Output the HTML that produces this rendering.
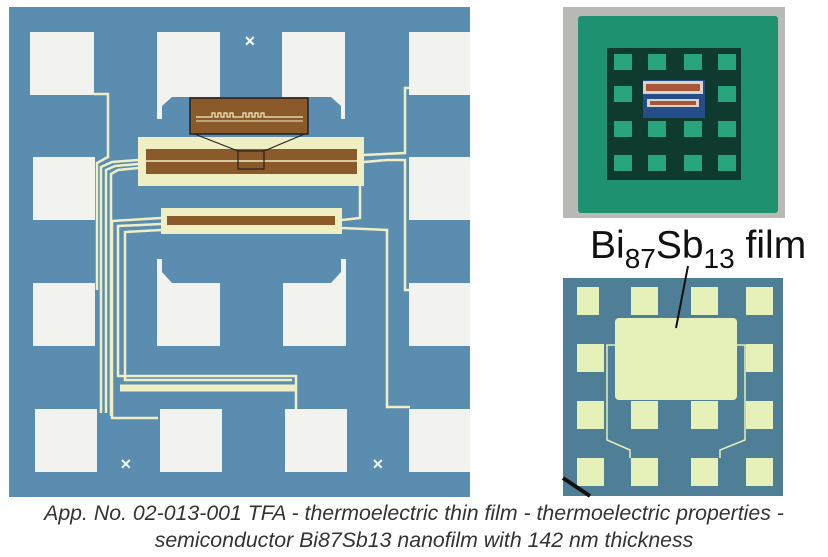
<!DOCTYPE html>
<html><head><meta charset="utf-8"><style>
html,body{margin:0;padding:0;background:#fff;width:828px;height:557px;overflow:hidden}
svg{display:block}
</style></head><body>
<svg width="828" height="557" viewBox="0 0 828 557" xmlns="http://www.w3.org/2000/svg">
<!-- left image -->
<rect x="9" y="7" width="461" height="490" fill="#5a8db0"/>
<g fill="#f2f2ee">
<rect x="30" y="32" width="64" height="63"/><rect x="157" y="32" width="63" height="63"/><rect x="282" y="32" width="63" height="63"/><rect x="409" y="32" width="61" height="63"/>
<rect x="33" y="157" width="62" height="63"/><rect x="409" y="157" width="61" height="63"/>
<rect x="33" y="283" width="62" height="63"/><rect x="157" y="283" width="63" height="63"/><rect x="283" y="283" width="63" height="63"/><rect x="409" y="283" width="61" height="63"/>
<rect x="35" y="409" width="62" height="63"/><rect x="160" y="409" width="62" height="63"/><rect x="285" y="409" width="62" height="63"/><rect x="409" y="409" width="61" height="63"/>
<path d="M157 95 H220 V97 H172 L162 106 V119 H157Z"/><path d="M282 95 H345 V119 H341 V106 L331 97 H282Z"/>
<path d="M157 259 H162 V272 L172 283 H157Z"/><path d="M341 259 H346 V283 H331 L341 272Z"/>
</g>
<g fill="#fff" font-family="Liberation Sans" font-size="14" font-weight="bold"><text x="244" y="46">✕</text><text x="120" y="469">✕</text><text x="372" y="469">✕</text></g>
<g fill="none" stroke="#f0efc4" stroke-width="2.5">
<polyline points="94,94 108,94 108,157 97,163 97,290"/>
<polyline points="138,160 112,162 101,167 101,413"/>
<polyline points="138,164 115,166 106,170 106,413"/>
<polyline points="138,168 118,170 111,174 111,416"/>
<polyline points="161,218 112,221 112,418 158,418"/>
<polyline points="161,224 118,226 118,376 296,376 296,409"/>
<polyline points="161,230 125,232 125,380 292,380"/>
<polyline points="409,88 405,88 405,153 364,155"/>
<polyline points="364,162 387,160 405,160 405,290 409,290"/>
<polyline points="360,170 360,218 342,220"/>
<polyline points="342,228 387,230 387,407 410,407"/>
</g>
<line x1="120" y1="388" x2="296" y2="388" stroke="#f0efc4" stroke-width="7"/>
<rect x="138" y="137" width="226" height="49" fill="#f0efc4"/>
<rect x="146" y="149" width="211" height="25" fill="#8b5a2b"/>
<line x1="146" y1="161" x2="357" y2="161" stroke="#f0efc4" stroke-width="1.5"/>
<rect x="238" y="151" width="26" height="18" fill="none" stroke="#222" stroke-width="1.2"/>
<path d="M238 151 L192 133 M264 151 L307 133" stroke="#222" stroke-width="1.2"/>
<rect x="161" y="208" width="181" height="26" fill="#f0efc4"/>
<rect x="167" y="216" width="168" height="9" fill="#8b5a2b"/>
<rect x="190" y="98" width="118" height="36" fill="#8b5a2b" stroke="#222" stroke-width="1.5"/>
<path d="M196 117 H212 v-4 h3 v4 h3 v-4 h3 v4 h3 v-4 h3 v4 h3 v-4 h3 v4 h10 v-4 h3 v4 h3 v-4 h3 v4 h3 v-4 h3 v4 h3 v-4 h3 v4 H303" stroke="#f0efc4" stroke-width="1.2" fill="none"/>
<line x1="196" y1="121" x2="303" y2="121" stroke="#f0efc4" stroke-width="1"/>
<!-- right top photo -->
<rect x="563" y="7" width="222" height="211" fill="#b9bab6"/>
<rect x="578" y="16" width="200" height="197" fill="#1e9170" rx="3"/>
<rect x="607" y="48" width="134" height="132" fill="#0f3a2f"/>
<g fill="#28a47d">
<rect x="614" y="54" width="18" height="16"/><rect x="648" y="54" width="18" height="16"/><rect x="684" y="54" width="18" height="16"/><rect x="718" y="54" width="18" height="16"/>
<rect x="614" y="86" width="18" height="16"/><rect x="718" y="86" width="18" height="16"/>
<rect x="614" y="121" width="18" height="16"/><rect x="648" y="121" width="18" height="16"/><rect x="684" y="121" width="18" height="16"/><rect x="718" y="121" width="18" height="16"/>
<rect x="614" y="155" width="18" height="16"/><rect x="648" y="155" width="18" height="16"/><rect x="684" y="155" width="18" height="16"/><rect x="718" y="155" width="18" height="16"/>
</g>
<rect x="643" y="80" width="62" height="38" fill="#244d8a"/>
<rect x="643" y="81" width="60" height="13" fill="#d9d3c9"/><rect x="646" y="84" width="54" height="7" fill="#a8553a"/>
<rect x="647" y="99" width="52" height="8" fill="#d9d3c9"/><rect x="650" y="101" width="46" height="4" fill="#a8553a"/>
<!-- label -->
<text x="590" y="258" font-family="Liberation Sans, DejaVu Sans, sans-serif" font-size="39" fill="#111">Bi<tspan font-size="28" dy="10">87</tspan><tspan dy="-10">Sb</tspan><tspan font-size="28" dy="10">13</tspan><tspan dy="-10"> film</tspan></text>
<!-- right bottom -->
<rect x="563" y="278" width="220" height="218" fill="#4f7f96"/>
<g fill="#e6f0b9">
<rect x="577" y="287" width="22" height="28"/><rect x="631" y="287" width="27" height="28"/><rect x="691" y="287" width="27" height="28"/><rect x="746" y="287" width="27" height="28"/>
<rect x="577" y="344" width="27" height="28"/><rect x="746" y="344" width="27" height="28"/>
<rect x="577" y="401" width="27" height="28"/><rect x="631" y="401" width="27" height="28"/><rect x="691" y="401" width="27" height="28"/><rect x="746" y="401" width="27" height="28"/>
<rect x="577" y="458" width="27" height="28"/><rect x="631" y="458" width="27" height="28"/><rect x="691" y="458" width="27" height="28"/><rect x="746" y="458" width="27" height="28"/>
<rect x="615" y="318" width="122" height="82" rx="4"/>
</g>
<g fill="none" stroke="#e6f0b9" stroke-width="1.5">
<polyline points="615,345 607,345 607,440 630,450 630,458"/>
<polyline points="737,345 745,345 745,440 720,450 720,458"/>
</g>
<line x1="688" y1="266" x2="676" y2="328" stroke="#111" stroke-width="2"/>
<path d="M563 478 L590 496" stroke="#111" stroke-width="4"/>
<!-- caption -->
<g font-family="Liberation Sans, sans-serif" font-style="italic" font-size="21.3" fill="#333" text-anchor="middle">
<text x="414" y="520">App. No. 02-013-001 TFA - thermoelectric thin film - thermoelectric properties -</text>
<text x="424" y="547">semiconductor Bi87Sb13 nanofilm with 142 nm thickness</text>
</g>
</svg>
</body></html>
